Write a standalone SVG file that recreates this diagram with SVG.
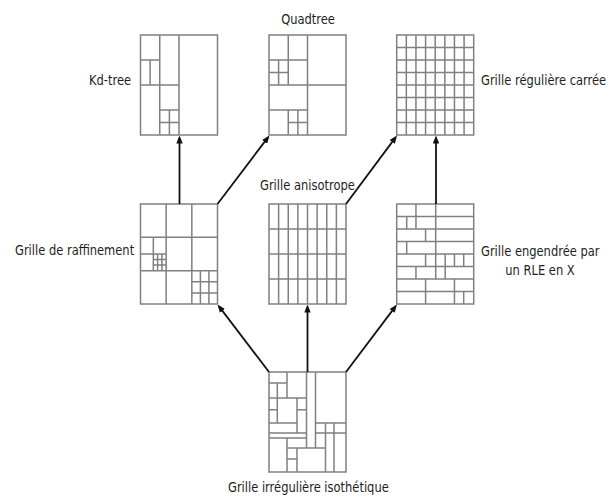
<svg xmlns="http://www.w3.org/2000/svg" width="613" height="498" viewBox="0 0 613 498">
<style>
.g{fill:none;stroke:#808080;stroke-width:1.5}
.lbl{font-family:"DejaVu Sans","Liberation Sans",sans-serif;font-size:11.5px;fill:#1e1e1e}
.arr{fill:none;stroke:#111;stroke-width:1.8;marker-end:url(#ah)}
</style>
<defs>
<marker id="ah" viewBox="0 0 10 8" refX="7" refY="4" markerWidth="8" markerHeight="6.6" markerUnits="userSpaceOnUse" orient="auto">
<path d="M0 0L10 4L0 8z" fill="#111"/>
</marker>
</defs>
<rect width="613" height="498" fill="#fff"/>

<g id="kdtree">
<g transform="translate(140.5,35)">
<rect class="g" width="77" height="100"/>
<path class="g" d="M19.25 0V100M38.5 0V100M0 25H19.25M9.6 25V50M0 50H38.5M19.25 75H38.5M28.9 75V100M19.25 87.5H38.5"/>
</g>
<text class="lbl" transform="translate(89,85) scale(1,1.15)">Kd-tree</text>
</g>

<g id="quadtree">
<g transform="translate(269,35)">
<rect class="g" width="77" height="100"/>
<path class="g" d="M38.5 0V100M0 50H77M0 25H38.5M19.25 0V50M9.6 25V50M0 37.5H19.25M0 75H38.5M19.25 75V100M28.9 75V100M19.25 87.5H38.5"/>
</g>
<text class="lbl" text-anchor="middle" transform="translate(308,24) scale(1,1.15)">Quadtree</text>
</g>

<g id="reguliere">
<g transform="translate(396.7,35)">
<rect class="g" width="77" height="100"/>
<path class="g" d="M9.625 0V100M19.25 0V100M28.875 0V100M38.5 0V100M48.125 0V100M57.75 0V100M67.375 0V100M0 12.5H77M0 25H77M0 37.5H77M0 50H77M0 62.5H77M0 75H77M0 87.5H77"/>
</g>
<text class="lbl" transform="translate(481,85) scale(1,1.15)">Grille régulière carrée</text>
</g>

<g id="raffinement">
<g transform="translate(140.5,204)">
<rect class="g" width="77" height="100"/>
<path class="g" d="M25.67 0V100M51.33 0V100M0 33.33H77M0 66.67H77M12.83 33.33V66.67M0 50H25.67M17.1 50V66.67M21.4 50V66.67M12.83 55.56H25.67M12.83 61.11H25.67M59.9 66.67V100M68.4 66.67V100M51.33 77.8H77M51.33 88.9H77"/>
</g>
<text class="lbl" transform="translate(15,255) scale(1,1.15)">Grille de raffinement</text>
</g>

<g id="anisotrope">
<g transform="translate(269,204)">
<rect class="g" width="77" height="100"/>
<path class="g" d="M9.625 0V100M19.25 0V100M28.875 0V100M38.5 0V100M48.125 0V100M57.75 0V100M67.375 0V100M0 25H77M0 50H77M0 75H77"/>
</g>
<text class="lbl" transform="translate(260,190) scale(1,1.15)">Grille anisotrope</text>
</g>

<g id="rle">
<g transform="translate(396.7,204)">
<rect class="g" width="77" height="100"/>
<path class="g" d="M0 12.5H77M0 25H77M0 37.5H77M0 50H77M0 62.5H77M0 75H77M0 87.5H77M39 0V75M19.25 0V12.5M10 12.5V25M19.25 12.5V25M28.9 25V37.5M10 37.5V50M28.9 50V62.5M48.5 50V62.5M57.75 50V62.5M67 50V62.5M19.25 62.5V75M48.5 62.5V75M28.9 75V87.5M57.75 75V87.5M28.9 87.5V100M57.75 87.5V100M67 87.5V100"/>
</g>
<text class="lbl" transform="translate(481,255.5) scale(1,1.15)">Grille engendrée par</text>
<text class="lbl" text-anchor="middle" transform="translate(540,275) scale(1,1.15)">un RLE en X</text>
</g>

<g id="irreguliere">
<g transform="translate(269,372)">
<rect class="g" width="77" height="100"/>
<path class="g" d="M37.5 0V76M46.5 0V76M46.5 51H77M56.5 51V100M65 51V100M46.5 61H77M18 0V26M0 11H18M8.3 11V51M0 26H37.5M0 37.7H8.3M28 26V61M28 37.7H37.5M0 51H28M0 61H37.5M0 66H37.5M18 66V100M18 76H56.5M28 76V100M18 87H28"/>
</g>
<text class="lbl" transform="translate(228,492) scale(1,1.15)">Grille irrégulière isothétique</text>
</g>

<g id="connectors">
<path class="arr" d="M179.5 204V137.9"/>
<path class="arr" d="M217.5 204L268 137.4"/>
<path class="arr" d="M346 204L395.6 137.4"/>
<path class="arr" d="M436 204V137.9"/>
<path class="arr" d="M269 372L219 306.4"/>
<path class="arr" d="M307.5 372V306.9"/>
<path class="arr" d="M346 372L395.5 306.4"/>
</g>
</svg>
